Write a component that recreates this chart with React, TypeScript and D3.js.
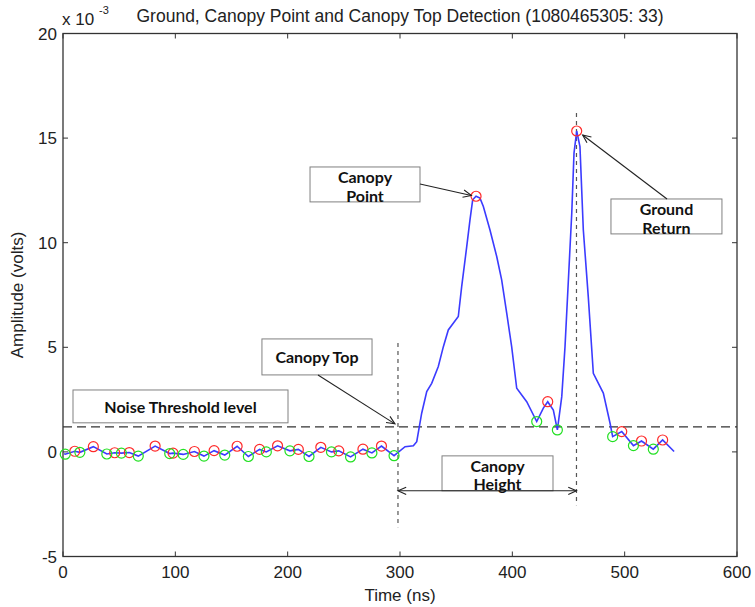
import React from "react";
import * as d3 from "d3";

// Waveform samples (time in ns, amplitude in 1e-3 V)
const waveTime = [1, 2, 10.5, 15, 27, 39, 46, 52, 59, 67, 82, 95, 98, 107, 117, 125.5, 134.5, 144, 155, 165, 175, 181, 191, 202, 209.5, 219, 229.5, 239, 245.5, 256, 267, 275, 283.5, 294.7,
  304.5, 311.9, 314.9, 319.3, 323.8, 328.2, 334.1, 338.6, 343, 351.9, 354.9, 359.4, 362.3, 364.7, 367.7,
  371.2, 374.2, 380.1, 386.1, 390.5, 395, 399.4, 403.9, 412.8, 421.7, 427.6, 431.5, 436.5, 440.1,
  444, 446.9, 449.9, 452.9, 454.9, 457.3, 460.2, 463.2, 467.6, 472.1, 481, 487, 489.3,
  497.4, 507.8, 515, 525.5, 533.8, 544];
const waveAmp = [-0.08, -0.11, 0.03, -0.02, 0.25, -0.1, -0.04, -0.06, -0.03, -0.2, 0.28, -0.08, -0.06, -0.12, 0.02, -0.2, 0.06, -0.15, 0.27, -0.22, 0.12, 0.0, 0.29, 0.05, 0.12, -0.22, 0.22, 0.0, 0.05, -0.24, 0.13, -0.05, 0.28, -0.18,
  0.25, 0.29, 0.49, 1.85, 2.88, 3.28, 4.08, 5.03, 5.83, 6.47, 7.9, 9.81, 11.09, 12.05, 12.22,
  12.13, 11.73, 10.61, 9.34, 8.22, 6.63, 5.03, 3.04, 2.4, 1.45, 2.09, 2.4, 2.0, 1.05,
  2.64, 5.03, 8.22, 11.41, 14.28, 15.34, 14.59, 10.61, 7.42, 3.76, 2.81, 1.37, 0.73,
  0.97, 0.3, 0.52, 0.13, 0.57, 0.02];

// Detected local maxima (red)
const peakTime = [10.5, 27, 46, 59, 82, 98, 117, 134.5, 155, 175, 191, 209.5, 229.5, 245.5, 267, 283.5, 367.7, 431.5, 457.3, 497.4, 515, 533.8];
const peakAmp = [0.03, 0.25, -0.04, -0.03, 0.28, -0.06, 0.02, 0.06, 0.27, 0.12, 0.29, 0.12, 0.22, 0.05, 0.13, 0.28, 12.22, 2.4, 15.34, 0.97, 0.52, 0.57];

// Detected local minima (green)
const troughTime = [2, 15, 39, 52, 67, 95, 107, 125.5, 144, 165, 181, 202, 219, 239, 256, 275, 294.7, 421.7, 440.1, 489.3, 507.8, 525.5];
const troughAmp = [-0.11, -0.02, -0.1, -0.06, -0.2, -0.08, -0.12, -0.2, -0.15, -0.22, 0.0, 0.05, -0.22, 0.0, -0.24, -0.05, -0.18, 1.45, 1.05, 0.73, 0.3, 0.13];

const xTicks = [0, 100, 200, 300, 400, 500, 600];
const yTicks = [-5, 0, 5, 10, 15, 20];
const noiseThreshold = 1.2;
const canopyTopTime = 298.2;
const groundTime = 457.1;

const W = 755, H = 607;
const x = d3.scaleLinear().domain([0, 600]).range([63, 737]);
const y = d3.scaleLinear().domain([-5, 20]).range([556.5, 33.5]);

const axisFont = "'Liberation Sans', Arial, sans-serif";
const annFont = "Lato, 'Open Sans', sans-serif";
const axisSize = 17;

function arrowHead(x1: number, y1: number, x2: number, y2: number, len = 9, ang = 0.42) {
  const a = Math.atan2(y2 - y1, x2 - x1);
  const p1 = [x2 - len * Math.cos(a - ang), y2 - len * Math.sin(a - ang)];
  const p2 = [x2 - len * Math.cos(a + ang), y2 - len * Math.sin(a + ang)];
  return `M${p1[0]},${p1[1]}L${x2},${y2}L${p2[0]},${p2[1]}`;
}

function Arrow({ t1, v1, t2, v2, both = false }: { t1: number; v1: number; t2: number; v2: number; both?: boolean }) {
  const X1 = x(t1), Y1 = y(v1), X2 = x(t2), Y2 = y(v2);
  return (
    <g stroke="#222" strokeWidth={1.1} fill="none">
      <line x1={X1} y1={Y1} x2={X2} y2={Y2} />
      <path d={arrowHead(X1, Y1, X2, Y2)} />
      {both && <path d={arrowHead(X2, Y2, X1, Y1)} />}
    </g>
  );
}

function Box({ t0, t1, v0, v1, lines, dy }: { t0: number; t1: number; v0: number; v1: number; lines: string[]; dy: number[] }) {
  const X0 = x(t0), X1 = x(t1), Y0 = y(v0), Y1 = y(v1);
  const cx = (X0 + X1) / 2;
  return (
    <g>
      <rect x={X0} y={Y0} width={X1 - X0} height={Y1 - Y0} fill="#fff" stroke="#808080" strokeWidth={1} />
      {lines.map((l, i) => (
        <text key={i} x={cx} y={Y0 + dy[i]} textAnchor="middle" fontFamily={annFont} fontWeight={700} fontSize={16} fill="#111">{l}</text>
      ))}
    </g>
  );
}

export default function App() {
  const line = d3.line<number>().x((_, i) => x(waveTime[i])).y((_, i) => y(waveAmp[i]));
  const path = line(waveTime) || "";
  const tl = 5;
  return (
    <svg width={W} height={H} style={{ position: "absolute", left: 0, top: 0, background: "#fff" }}>
      <rect x={0} y={0} width={W} height={H} fill="#fff" />
      {/* axes box */}
      <rect x={x(0)} y={y(20)} width={x(600) - x(0)} height={y(-5) - y(20)} fill="none" stroke="#333" strokeWidth={1.3} />
      {xTicks.map((t) => (
        <g key={"xt" + t}>
          <line x1={x(t)} x2={x(t)} y1={y(-5)} y2={y(-5) - tl} stroke="#333" />
          <line x1={x(t)} x2={x(t)} y1={y(20)} y2={y(20) + tl} stroke="#333" />
          <text x={x(t)} y={y(-5) + 21} textAnchor="middle" fontFamily={axisFont} fontSize={axisSize} fill="#222">{t}</text>
        </g>
      ))}
      {yTicks.map((v) => (
        <g key={"yt" + v}>
          <line x1={x(0)} x2={x(0) + tl} y1={y(v)} y2={y(v)} stroke="#333" />
          <line x1={x(600)} x2={x(600) - tl} y1={y(v)} y2={y(v)} stroke="#333" />
          <text x={x(0) - 6} y={y(v) + 6} textAnchor="end" fontFamily={axisFont} fontSize={axisSize} fill="#222">{v}</text>
        </g>
      ))}
      {/* scale factor */}
      <text x={62} y={25} fontFamily={axisFont} fontSize={axisSize} fill="#222">x 10</text>
      <text x={99} y={14} fontFamily={axisFont} fontSize={11} fill="#222">-3</text>
      {/* title */}
      <text x={400} y={22} textAnchor="middle" fontFamily={axisFont} fontSize={17.5} fill="#222">Ground, Canopy Point and Canopy Top Detection (1080465305: 33)</text>
      {/* axis labels */}
      <text x={400} y={601} textAnchor="middle" fontFamily={axisFont} fontSize={axisSize} fill="#222">Time (ns)</text>
      <text transform={`translate(23,${(y(20) + y(-5)) / 2}) rotate(-90)`} textAnchor="middle" fontFamily={axisFont} fontSize={axisSize} fill="#222">Amplitude (volts)</text>

      {/* threshold and vertical markers */}
      <line x1={x(0)} x2={x(600)} y1={y(noiseThreshold)} y2={y(noiseThreshold)} stroke="#333" strokeWidth={1.2} strokeDasharray="9,5" />
      <line x1={x(canopyTopTime)} x2={x(canopyTopTime)} y1={y(5.2)} y2={y(-3.6)} stroke="#555" strokeWidth={1.2} strokeDasharray="4,4" />
      <line x1={x(groundTime)} x2={x(groundTime)} y1={y(16.2)} y2={y(-2.55)} stroke="#555" strokeWidth={1.2} strokeDasharray="4,4" />

      {/* waveform */}
      <path d={path} fill="none" stroke="#3b3bff" strokeWidth={1.6} />
      {peakTime.map((t, i) => (
        <circle key={"p" + i} cx={x(t)} cy={y(peakAmp[i])} r={5} fill="none" stroke="#ff2a2a" strokeWidth={1.2} />
      ))}
      {troughTime.map((t, i) => (
        <circle key={"g" + i} cx={x(t)} cy={y(troughAmp[i])} r={5} fill="none" stroke="#22e022" strokeWidth={1.2} />
      ))}

      {/* annotations */}
      <Box t0={8.9} t1={200.3} v0={2.96} v1={1.39} lines={["Noise Threshold level"]} dy={[23]} />
      <Box t0={177.1} t1={275.1} v0={5.4} v1={3.68} lines={["Canopy Top"]} dy={[24]} />
      <Arrow t1={227} v1={3.68} t2={295.5} v2={1.34} />
      <Box t0={219.9} t1={317.8} v0={13.62} v1={11.95} lines={["Canopy", "Point"]} dy={[16, 35]} />
      <Arrow t1={317.8} v1={12.81} t2={363.5} v2={12.26} />
      <Box t0={487.8} t1={586.6} v0={12.09} v1={10.42} lines={["Ground", "Return"]} dy={[16, 35]} />
      <Arrow t1={537.7} v1={12.09} t2={462.6} v2={15.15} />
      <Box t0={337.4} t1={436.2} v0={-0.19} v1={-1.86} lines={["Canopy", "Height"]} dy={[16, 34]} />
      <Arrow t1={canopyTopTime} v1={-1.86} t2={groundTime} v2={-1.86} both />
    </svg>
  );
}
